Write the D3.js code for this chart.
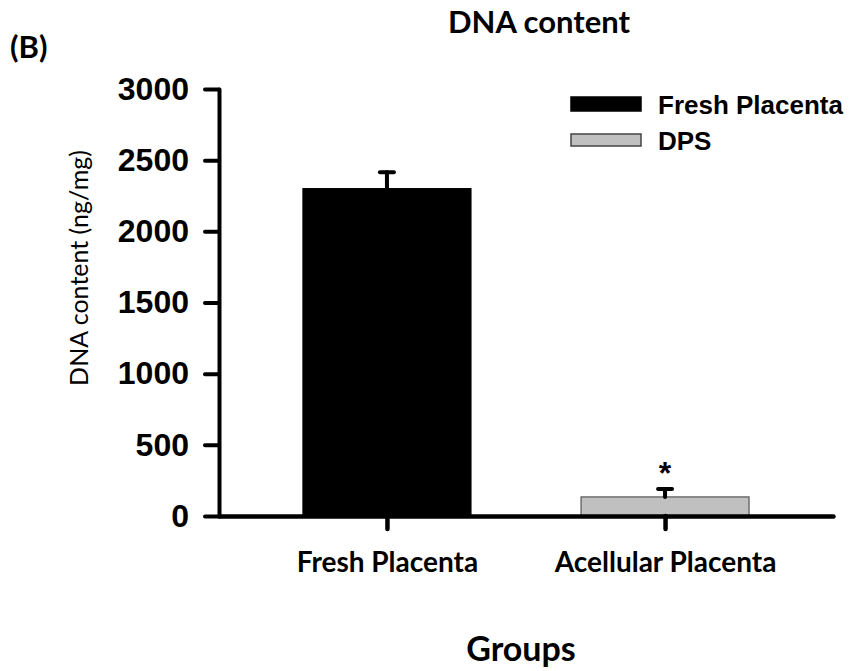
<!DOCTYPE html>
<html>
<head>
<meta charset="utf-8">
<script src="https://cdn.jsdelivr.net/npm/d3@7"></script>
<style>
  body { margin: 0; background: #fff; }
  svg { display: block; }
</style>
</head>
<body>
<div id="chart"></div>
<script>
// data
const groups = ["Fresh Placenta", "Acellular Placenta"];
const series = ["Fresh Placenta", "DPS"];
const values = [2300, 134];
const errors = [115, 56];
const yTicks = [0, 500, 1000, 1500, 2000, 2500, 3000];
const fills = ["#000000", "#c0c0c0"];
const strokes = ["#000000", "#555555"];

const W = 853, H = 671;
const svg = d3.select("#chart").append("svg")
  .attr("width", W).attr("height", H);

const calibri = "Lato, 'Open Sans', sans-serif";
const arial = "'Liberation Sans', Arial, sans-serif";

const y = d3.scaleLinear().domain([0, 3000]).range([516, 89]);
const x = d3.scalePoint().domain(groups).range([219, 833]).padding(0.604);
const barW = 168;

// bars
svg.append("g").selectAll("rect")
  .data(groups)
  .enter().append("rect")
  .attr("x", d => x(d) - barW / 2)
  .attr("y", (d, i) => y(values[i]))
  .attr("width", barW)
  .attr("height", (d, i) => y(0) - y(values[i]))
  .attr("fill", (d, i) => fills[i])
  .attr("stroke", (d, i) => strokes[i])
  .attr("stroke-width", 1.2);

// error bars (upper only)
const eb = svg.append("g").attr("stroke", "#000").attr("stroke-width", 4).attr("stroke-linecap", "round");
groups.forEach((g, i) => {
  eb.append("line")
    .attr("x1", x(g)).attr("x2", x(g))
    .attr("y1", y(values[i])).attr("y2", y(values[i] + errors[i]));
  eb.append("line")
    .attr("x1", x(g) - 7).attr("x2", x(g) + 7)
    .attr("y1", y(values[i] + errors[i])).attr("y2", y(values[i] + errors[i]));
});

// significance mark
svg.append("text")
  .attr("x", x(groups[1])).attr("y", y(values[1] + errors[1]) - 5)
  .attr("text-anchor", "middle")
  .style("font-family", arial).style("font-weight", "bold").style("font-size", "32px")
  .text("*");

// y axis
const yAxis = svg.append("g")
  .attr("transform", "translate(219,0)")
  .call(d3.axisLeft(y).tickValues(yTicks).tickFormat(d3.format("d"))
    .tickSize(14).tickSizeOuter(0).tickPadding(16));
yAxis.selectAll("path, line").attr("stroke", "#000").attr("stroke-width", 4).attr("stroke-linecap", "round");
yAxis.selectAll("text")
  .style("font-family", arial).style("font-weight", "bold").style("font-size", "32px").attr("fill", "#000");

// x axis
const xAxis = svg.append("g")
  .attr("transform", "translate(0,516)")
  .call(d3.axisBottom(x).tickSize(13).tickSizeOuter(0));
xAxis.selectAll("path, line").attr("stroke", "#000").attr("stroke-width", 4.5).attr("stroke-linecap", "round");
xAxis.selectAll("text")
  .attr("y", 56).attr("dy", 0)
  .style("font-family", calibri).style("font-weight", "bold").style("font-size", "28px").attr("fill", "#000");

// titles
svg.append("text")
  .attr("x", 539).attr("y", 33).attr("text-anchor", "middle")
  .style("font-family", calibri).style("font-weight", "bold").style("font-size", "31px")
  .text("DNA content");

svg.append("text")
  .attr("x", 10).attr("y", 58)
  .style("font-family", calibri).style("font-weight", "bold").style("font-size", "31px")
  .text("(B)");

svg.append("text")
  .attr("x", 521).attr("y", 661).attr("text-anchor", "middle")
  .style("font-family", calibri).style("font-weight", "bold").style("font-size", "34px")
  .text("Groups");

svg.append("text")
  .attr("transform", "translate(88,268) rotate(-90)")
  .attr("text-anchor", "middle")
  .style("font-family", calibri).style("font-size", "25px")
  .text("DNA content (ng/mg)");

// legend
const legend = svg.append("g");
const legY = [104, 140];
series.forEach((s, i) => {
  legend.append("rect")
    .attr("x", 571).attr("y", legY[i] - (i === 0 ? 7 : 6))
    .attr("width", 70).attr("height", i === 0 ? 14 : 12)
    .attr("fill", fills[i]).attr("stroke", i === 0 ? "#000" : "#444").attr("stroke-width", 1.5);
  legend.append("text")
    .attr("x", 658).attr("y", legY[i] + 9.5)
    .style("font-family", arial).style("font-weight", "bold").style("font-size", "26px")
    .text(s);
});
</script>
</body>
</html>
